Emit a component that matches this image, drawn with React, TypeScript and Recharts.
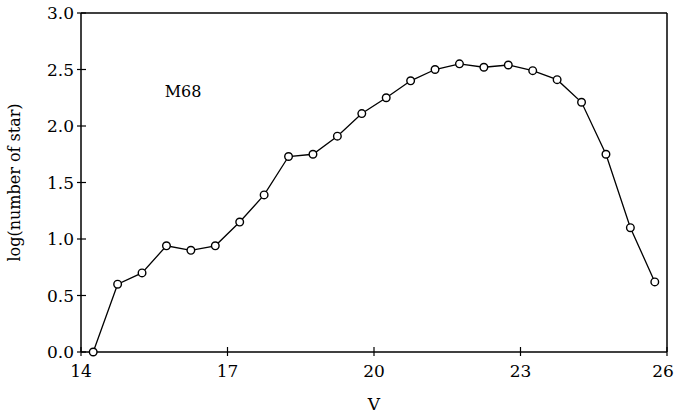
import { LineChart, Line, XAxis, YAxis, ReferenceLine, Label } from "recharts";

const vMags = [
  14.25, 14.75, 15.25, 15.75, 16.25, 16.75, 17.25, 17.75, 18.25, 18.75, 19.25, 19.75,
  20.25, 20.75, 21.25, 21.75, 22.25, 22.75, 23.25, 23.75, 24.25, 24.75, 25.25, 25.75,
];
const logCounts = [
  0.0, 0.6, 0.7, 0.94, 0.9, 0.94, 1.15, 1.39, 1.73, 1.75, 1.91, 2.11,
  2.25, 2.4, 2.5, 2.55, 2.52, 2.54, 2.49, 2.41, 2.21, 1.75, 1.1, 0.62,
];
const xTicks = [14, 17, 20, 23, 26];
const yTicks = [0, 0.5, 1, 1.5, 2, 2.5, 3];

const FONT = "'DejaVu Serif', 'Liberation Serif', serif";

const data = vMags.map((v, i) => ({ v, n: logCounts[i] }));

function XTick({ x, y, payload }: any) {
  // last label sits right at the page edge, nudge it in a bit
  const dx = payload.value === 26 ? -4 : 0;
  return (
    <g>
      <line x1={x} x2={x} y1={y - 5} y2={y + 4} stroke="#000" strokeWidth={1.2} />
      <text x={x + dx} y={y + 25} textAnchor="middle" fontSize={17} fontFamily={FONT} fill="#000">
        {payload.value}
      </text>
    </g>
  );
}

function YTick({ x, y, payload }: any) {
  return (
    <g>
      <line x1={x - 4} x2={x + 5} y1={y} y2={y} stroke="#000" strokeWidth={1.2} />
      <text x={x - 7} y={y + 6} textAnchor="end" fontSize={17} fontFamily={FONT} fill="#000">
        {Number(payload.value).toFixed(1)}
      </text>
    </g>
  );
}

export default function App() {
  return (
    <div style={{ position: "absolute", left: 0, top: 0, background: "#fff" }}>
      <LineChart
        width={676}
        height={415}
        data={data}
        margin={{ top: 13, right: 9, left: 0, bottom: 0 }}
      >
        <XAxis
          dataKey="v"
          type="number"
          domain={[14, 26]}
          ticks={xTicks}
          tickSize={0}
          tickMargin={0}
          tick={<XTick />}
          height={63}
          axisLine={{ stroke: "#000", strokeWidth: 1.5 }}
          tickLine={false}
        >
          <Label
            value="V"
            position="insideBottom"
            offset={5}
            style={{ fontSize: 17, fontFamily: FONT, fill: "#000" }}
          />
        </XAxis>
        <YAxis
          type="number"
          domain={[0, 3]}
          ticks={yTicks}
          tickSize={0}
          tickMargin={0}
          tick={<YTick />}
          width={81}
          axisLine={{ stroke: "#000", strokeWidth: 1.5 }}
          tickLine={false}
        >
          <Label
            value="log(number of star)"
            angle={-90}
            position="insideLeft"
            offset={14}
            style={{ fontSize: 16, fontFamily: FONT, fill: "#000", textAnchor: "middle" }}
          />
        </YAxis>
        <ReferenceLine y={3} stroke="#000" strokeWidth={1.5} />
        <ReferenceLine x={26} stroke="#000" strokeWidth={1.5} />
        <Line
          dataKey="n"
          type="linear"
          stroke="#000"
          strokeWidth={1.3}
          dot={{ r: 3.8, fill: "#fff", stroke: "#000", strokeWidth: 1.4 }}
          isAnimationActive={false}
        />
        <text x={183} y={97} textAnchor="middle" fontSize={16} fontFamily={FONT} fill="#000">
          M68
        </text>
      </LineChart>
    </div>
  );
}
